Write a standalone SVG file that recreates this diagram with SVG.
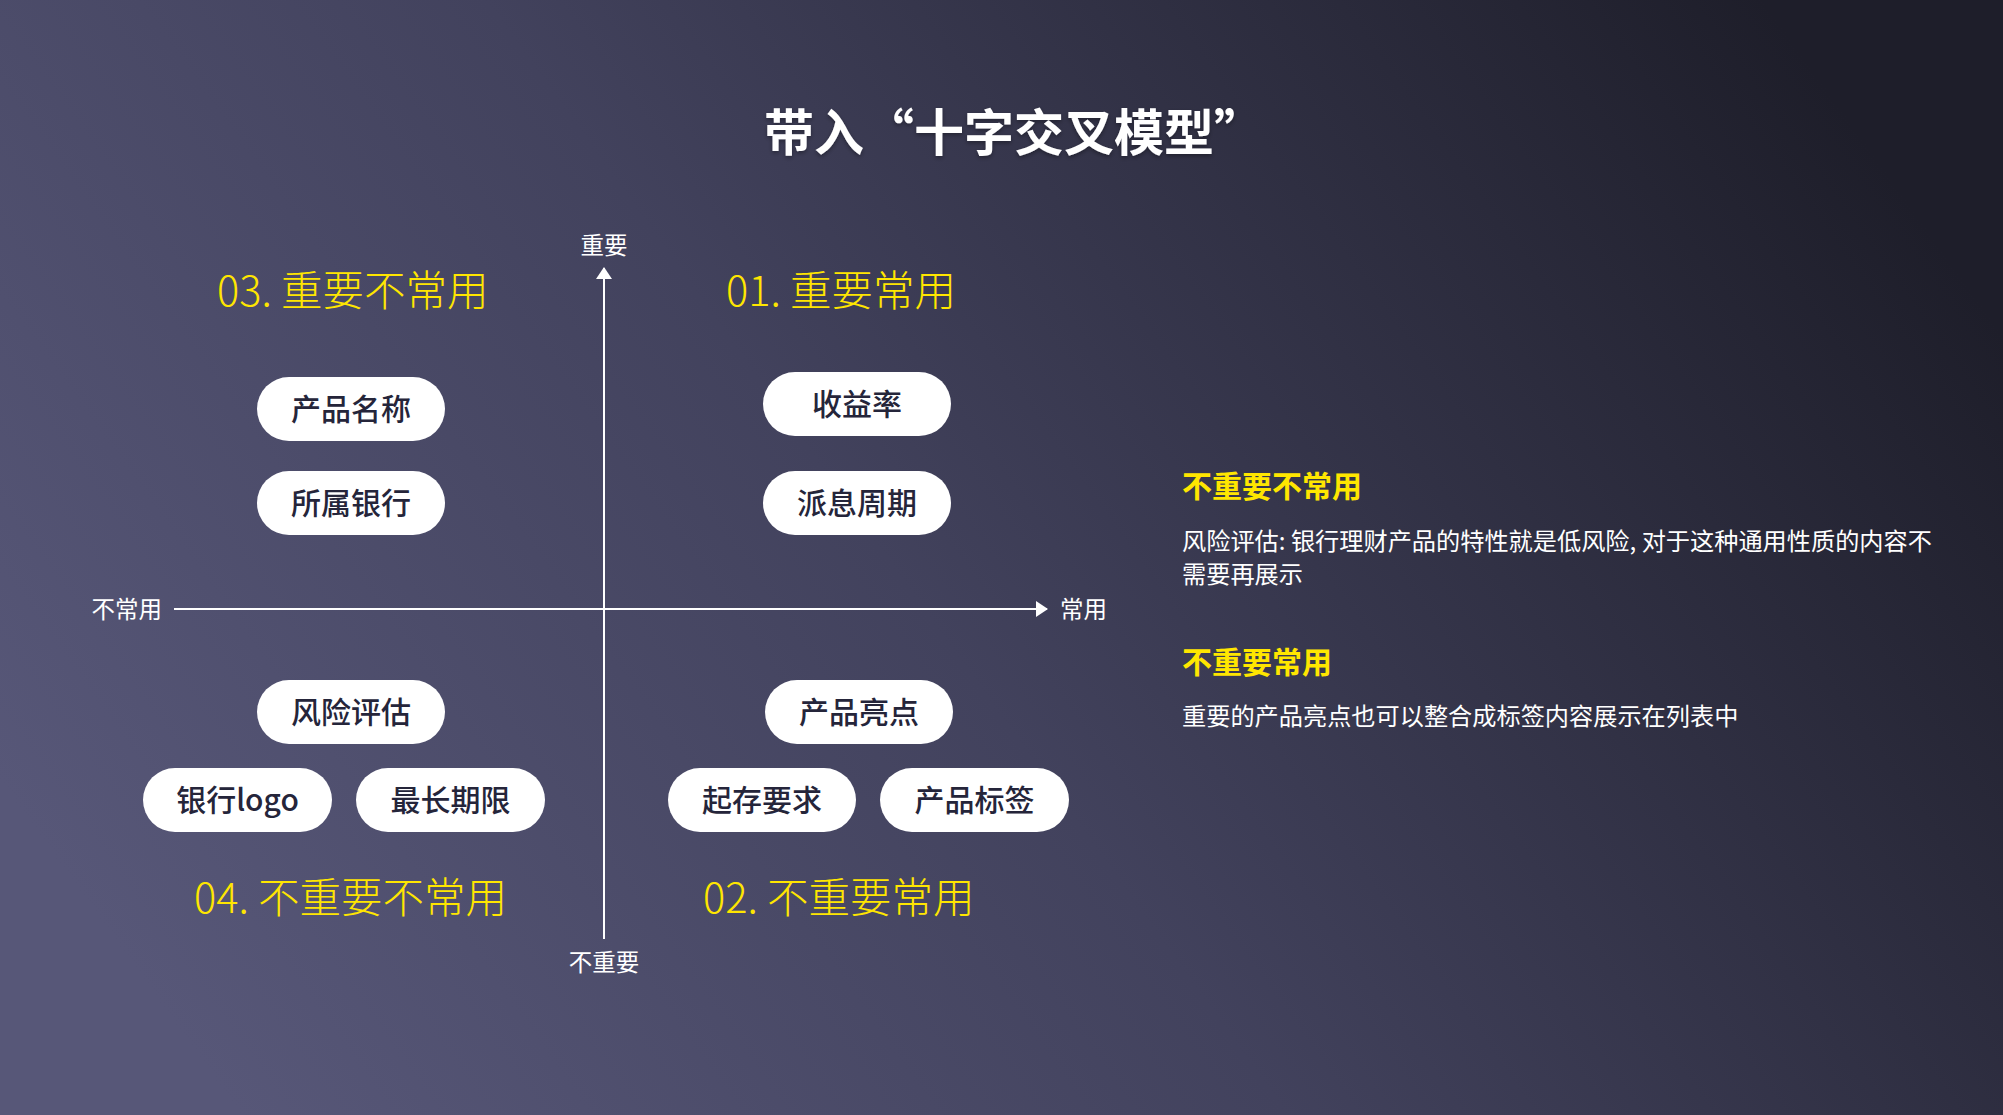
<svg xmlns="http://www.w3.org/2000/svg" width="2003" height="1115" viewBox="0 0 2003 1115">
  <defs>
    <linearGradient id="bg" x1="0" y1="0.7" x2="1" y2="0.3">
      <stop offset="0" stop-color="#575778"/>
      <stop offset="0.45" stop-color="#42425d"/>
      <stop offset="1" stop-color="#1e1e2a"/>
    </linearGradient>
    <marker id="arr" viewBox="0 0 12 16" refX="11" refY="8" markerWidth="12" markerHeight="16" markerUnits="userSpaceOnUse" orient="auto">
      <path d="M0,0 L12,8 L0,16 z" fill="#ffffff"/>
    </marker>
    <filter id="sh" x="-10%" y="-30%" width="120%" height="160%">
      <feDropShadow dx="0" dy="2" stdDeviation="2" flood-color="#000" flood-opacity="0.35"/>
    </filter>
  </defs>
  <style>
    text { font-family: "Noto Sans CJK SC", "Noto Sans", sans-serif; }
    .title { fill: #ffffff; font-size: 50px; font-weight: 700; }
    .quad { fill: #ffe600; font-size: 41.5px; font-weight: 300; }
    .axis { fill: #ffffff; font-size: 23.5px; }
    .pill rect { fill: #ffffff; }
    .pill text { fill: #25253a; font-size: 30px; font-weight: 500; }
    .h { fill: #ffe600; font-size: 30px; font-weight: 700; }
    .p { fill: #ffffff; font-size: 24.2px; }
    .ax { stroke: #ffffff; stroke-width: 2; fill: none; }
  </style>
  <rect x="0" y="0" width="2003" height="1115" fill="url(#bg)"/>

  <text class="title" x="1014" y="129" text-anchor="middle" dominant-baseline="central" filter="url(#sh)">带入“十字交叉模型”</text>

  <g id="connectors">
    <line class="ax" x1="604" y1="939" x2="604" y2="268" marker-end="url(#arr)"/>
    <line class="ax" x1="174" y1="609" x2="1047" y2="609" marker-end="url(#arr)"/>
  </g>

  <g id="axis-labels">
    <text class="axis" x="604" y="244" text-anchor="middle" dominant-baseline="central">重要</text>
    <text class="axis" x="604" y="961" text-anchor="middle" dominant-baseline="central">不重要</text>
    <text class="axis" x="162" y="608" text-anchor="end" dominant-baseline="central">不常用</text>
    <text class="axis" x="1060" y="608" text-anchor="start" dominant-baseline="central">常用</text>
  </g>

  <g id="quadrant-titles">
    <text class="quad" x="217" y="288" dominant-baseline="central">03. 重要不常用</text>
    <text class="quad" x="726" y="288" dominant-baseline="central">01. 重要常用</text>
    <text class="quad" x="194" y="895" dominant-baseline="central">04. 不重要不常用</text>
    <text class="quad" x="703" y="895" dominant-baseline="central">02. 不重要常用</text>
  </g>

  <g id="n-chanpinmingcheng" class="pill"><rect x="257" y="377" width="188" height="64" rx="32"/><text x="351" y="407" text-anchor="middle" dominant-baseline="central">产品名称</text></g>
  <g id="n-suoshuyinhang" class="pill"><rect x="257" y="471" width="188" height="64" rx="32"/><text x="351" y="501" text-anchor="middle" dominant-baseline="central">所属银行</text></g>
  <g id="n-shouyilv" class="pill"><rect x="763" y="372" width="188" height="64" rx="32"/><text x="857" y="402" text-anchor="middle" dominant-baseline="central">收益率</text></g>
  <g id="n-paixizhouqi" class="pill"><rect x="763" y="471" width="188" height="64" rx="32"/><text x="857" y="501" text-anchor="middle" dominant-baseline="central">派息周期</text></g>
  <g id="n-fengxianpinggu" class="pill"><rect x="257" y="680" width="188" height="64" rx="32"/><text x="351" y="710" text-anchor="middle" dominant-baseline="central">风险评估</text></g>
  <g id="n-yinhanglogo" class="pill"><rect x="143" y="768" width="189" height="64" rx="32"/><text x="237.5" y="798" text-anchor="middle" dominant-baseline="central">银行logo</text></g>
  <g id="n-zuichangqixian" class="pill"><rect x="356" y="768" width="189" height="64" rx="32"/><text x="450.5" y="798" text-anchor="middle" dominant-baseline="central">最长期限</text></g>
  <g id="n-chanpinliangdian" class="pill"><rect x="765" y="680" width="188" height="64" rx="32"/><text x="859" y="710" text-anchor="middle" dominant-baseline="central">产品亮点</text></g>
  <g id="n-qicunyaoqiu" class="pill"><rect x="668" y="768" width="188" height="64" rx="32"/><text x="762" y="798" text-anchor="middle" dominant-baseline="central">起存要求</text></g>
  <g id="n-chanpinbiaoqian" class="pill"><rect x="880" y="768" width="189" height="64" rx="32"/><text x="974.5" y="798" text-anchor="middle" dominant-baseline="central">产品标签</text></g>

  <g id="notes">
    <text class="h" x="1182" y="484" dominant-baseline="central">不重要不常用</text>
    <text class="p" x="1182" y="539" dominant-baseline="central">风险评估: 银行理财产品的特性就是低风险, 对于这种通用性质的内容不</text>
    <text class="p" x="1182" y="572" dominant-baseline="central">需要再展示</text>
    <text class="h" x="1182" y="660" dominant-baseline="central">不重要常用</text>
    <text class="p" x="1182" y="714" dominant-baseline="central">重要的产品亮点也可以整合成标签内容展示在列表中</text>
  </g>
</svg>
